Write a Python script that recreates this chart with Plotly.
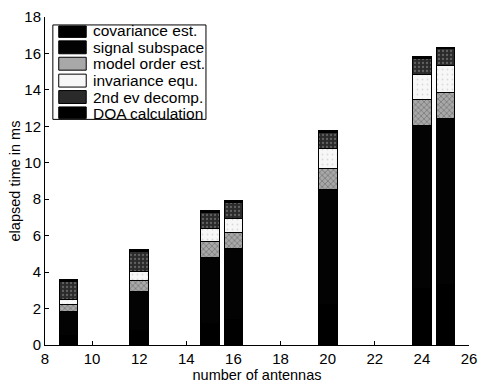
import plotly.graph_objects as go

antennas = [9, 12, 15, 16, 20, 24, 25]
covariance_est = [0.5, 0.8, 1.2, 1.4, 2.2, 3.1, 3.3]
signal_subspace = [1.35, 2.16, 3.58, 3.89, 6.36, 8.92, 9.12]
model_order_est = [0.4, 0.57, 0.88, 0.87, 1.15, 1.45, 1.45]
invariance_equ = [0.27, 0.52, 0.72, 0.77, 1.09, 1.37, 1.46]
second_ev_decomp = [0.98, 1.07, 0.9, 0.9, 0.88, 0.9, 0.92]
doa_calculation = [0.1, 0.1, 0.1, 0.1, 0.1, 0.1, 0.1]
series_names = ["covariance est.", "signal subspace", "model order est.",
                "invariance equ.", "2nd ev decomp.", "DOA calculation"]
x_ticks = [8, 10, 12, 14, 16, 18, 20, 22, 24, 26]
y_ticks = [0, 2, 4, 6, 8, 10, 12, 14, 16, 18]

values = [covariance_est, signal_subspace, model_order_est,
          invariance_equ, second_ev_decomp, doa_calculation]
fills = ["#000000", "#030303", "#a8a8a8", "#f7f7f7", "#2a2a2a", "#000000"]
patterns = [
    None,
    None,
    dict(shape="x", fgcolor="#333333", size=4, solidity=0.3),
    dict(shape=".", fgcolor="#bbbbbb", size=5, solidity=0.1),
    dict(shape=".", fgcolor="#9a9a9a", size=4, solidity=0.25),
    None,
]

W, H = 483, 384
L, R, T, B = 45, 6, 17, 37
PW, PH = W - L - R, H - T - B


def px(xp):
    return (xp - L) / PW


def py(yp):
    return 1 - (yp - T) / PH


fig = go.Figure()
for name, vals, fc, pat in zip(series_names, values, fills, patterns):
    m = dict(color=fc, line=dict(color="#000000", width=1))
    if pat:
        m["pattern"] = pat
    fig.add_trace(go.Bar(x=antennas, y=vals, name=name, width=0.8, marker=m,
                         showlegend=False))

# hand-made legend box (MATLAB style)
shapes = [dict(type="rect", xref="paper", yref="paper",
               x0=px(53), x1=px(209), y0=py(120), y1=py(25),
               fillcolor="white", line=dict(color="black", width=1), layer="above")]
annotations = []
row_centres = [31, 47.5, 64, 81, 97.5, 114]
for name, fc, yc in zip(series_names, fills, row_centres):
    top = max(yc - 6.5, 26)
    bot = min(yc + 6.5, 119)
    shapes.append(dict(type="rect", xref="paper", yref="paper",
                       x0=px(59), x1=px(87), y0=py(bot), y1=py(top),
                       fillcolor=fc, line=dict(color="black", width=1), layer="above"))
    annotations.append(dict(text=name, xref="paper", yref="paper",
                            x=px(92), y=py(yc), xanchor="left", yanchor="middle",
                            showarrow=False, font=dict(size=15.5)))

fig.update_layout(
    barmode="stack",
    width=W, height=H,
    margin=dict(l=L, r=R, t=T, b=B),
    paper_bgcolor="white", plot_bgcolor="white",
    font=dict(family="Liberation Sans, Arial, sans-serif", size=14, color="black"),
    showlegend=False,
    shapes=shapes,
    annotations=annotations,
    xaxis=dict(
        range=[8, 26], tickvals=x_ticks,
        ticks="inside", ticklen=4, tickcolor="black", ticklabeloverflow="allow",
        showline=True, linecolor="black", linewidth=1, showgrid=False, zeroline=False,
        title=dict(text="number of antennas", standoff=1, font=dict(size=14.5)),
        tickfont=dict(size=15),
    ),
    yaxis=dict(
        range=[0, 18], tickvals=y_ticks,
        ticks="inside", ticklen=4, tickcolor="black", ticklabeloverflow="allow",
        showline=True, linecolor="black", linewidth=1, showgrid=False, zeroline=False,
        title=dict(text="elapsed time in ms", standoff=0, font=dict(size=14.5)),
        tickfont=dict(size=15),
    ),
)

fig.write_html(
    "out.html",
    config={"displayModeBar": False},
    post_script="document.body.style.margin='0';document.body.style.overflow='hidden';",
)
